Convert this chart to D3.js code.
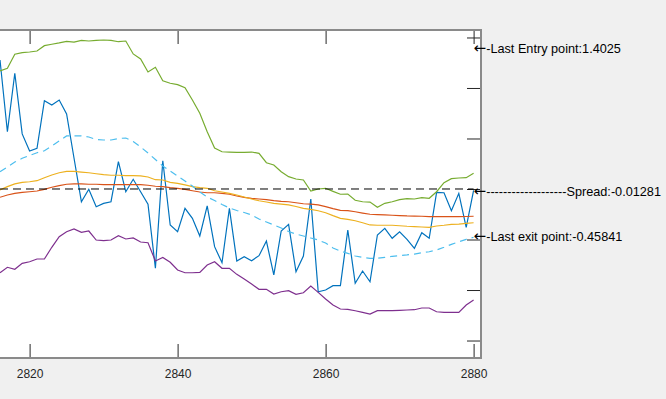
<!DOCTYPE html>
<html>
<head>
<meta charset="utf-8">
<script src="https://cdn.jsdelivr.net/npm/d3@7"></script>
<style>
  body { margin: 0; background: #f0f0f0; overflow: hidden; }
  svg { display: block; }
  .tick line { stroke: #262626; }
  .tick text { font-family: "Liberation Sans", Arial, sans-serif; font-size: 12px; fill: #262626; }
  .note { font-family: "Liberation Sans", Arial, sans-serif; font-size: 12.7px; fill: #000; }
  .arrow { font-family: "DejaVu Sans", sans-serif; font-size: 15px; }
</style>
</head>
<body>
<svg id="chart"></svg>
<script>
// sample index shown on the x axis
var xs = d3.range(2816, 2881);

// spread (solid blue)
var spread = [1.277, 0.567, 1.146, 0.545, 0.376, 0.403, 0.874, 0.832, 0.881, 0.743,
  0.307, -0.126, -0.003, -0.175, -0.142, -0.126, 0.270, -0.027, 0.096, -0.027,
  -0.151, -0.785, 0.280, -0.356, -0.423, -0.191, -0.290, -0.465, -0.168, -0.571,
  -0.730, -0.191, -0.713, -0.670, -0.710, -0.660, -0.515, -0.851, -0.416, -0.350,
  -0.819, -0.663, -0.099, -1.017, -1.000, -0.957, -0.957, -0.406, -0.934, -0.812,
  -0.918, -0.455, -0.389, -0.488, -0.423, -0.498, -0.587, -0.433, -0.488, -0.033,
  -0.037, -0.215, -0.043, -0.379, -0.0128];

var slowMean = [-0.082, -0.059, -0.043, -0.033, -0.027, -0.020, -0.003, 0.017, 0.033, 0.047,
  0.050, 0.050, 0.047, 0.047, 0.043, 0.043, 0.043, 0.043, 0.043, 0.043,
  0.037, 0.027, 0.023, 0.013, 0.007, -0.003, -0.017, -0.030, -0.037, -0.037,
  -0.043, -0.052, -0.069, -0.082, -0.092, -0.099, -0.106, -0.116, -0.122, -0.126,
  -0.136, -0.146, -0.149, -0.158, -0.175, -0.195, -0.211, -0.215, -0.225, -0.238,
  -0.250, -0.254, -0.257, -0.260, -0.263, -0.267, -0.269, -0.270, -0.274, -0.274,
  -0.274, -0.274, -0.274, -0.272, -0.270];

var fastMean = [-0.010, 0.023, 0.050, 0.066, 0.072, 0.082, 0.112, 0.139, 0.161, 0.175,
  0.175, 0.168, 0.161, 0.151, 0.142, 0.136, 0.136, 0.132, 0.132, 0.129,
  0.119, 0.092, 0.089, 0.066, 0.056, 0.040, 0.023, 0.013, 0.007, -0.017,
  -0.030, -0.043, -0.059, -0.079, -0.099, -0.116, -0.129, -0.142, -0.149, -0.158,
  -0.173, -0.191, -0.201, -0.215, -0.235, -0.264, -0.290, -0.300, -0.314, -0.334,
  -0.356, -0.359, -0.359, -0.359, -0.364, -0.369, -0.372, -0.376, -0.379, -0.366,
  -0.359, -0.350, -0.347, -0.340, -0.334];

var lowerBand = [-0.829, -0.775, -0.795, -0.736, -0.720, -0.693, -0.693, -0.577, -0.472, -0.423,
  -0.396, -0.429, -0.416, -0.505, -0.512, -0.505, -0.462, -0.495, -0.485, -0.525,
  -0.532, -0.713, -0.678, -0.726, -0.802, -0.829, -0.829, -0.825, -0.752, -0.720,
  -0.785, -0.785, -0.845, -0.891, -0.941, -0.993, -0.993, -1.040, -1.017, -1.007,
  -1.043, -1.027, -0.960, -1.023, -1.089, -1.149, -1.188, -1.191, -1.205, -1.221,
  -1.238, -1.205, -1.205, -1.205, -1.201, -1.198, -1.195, -1.178, -1.178, -1.215,
  -1.221, -1.221, -1.221, -1.149, -1.099];

var upperBand = [1.168, 1.195, 1.334, 1.350, 1.356, 1.366, 1.419, 1.433, 1.446, 1.462,
  1.455, 1.472, 1.465, 1.472, 1.475, 1.472, 1.458, 1.465, 1.337, 1.287,
  1.158, 1.205, 1.072, 1.047, 1.033, 1.003, 0.881, 0.750, 0.567, 0.406,
  0.369, 0.366, 0.363, 0.363, 0.366, 0.353, 0.260, 0.238, 0.171, 0.122,
  0.099, 0.089, -0.020, 0.000, 0.007, -0.023, -0.052, -0.050, -0.112, -0.126,
  -0.129, -0.181, -0.142, -0.126, -0.106, -0.096, -0.099, -0.086, -0.092, -0.027,
  0.062, 0.102, 0.109, 0.112, 0.155];

var exitLine = [0.171, 0.218, 0.267, 0.304, 0.332, 0.359, 0.379, 0.426, 0.475, 0.525,
  0.525, 0.525, 0.515, 0.490, 0.485, 0.485, 0.500, 0.505, 0.470, 0.416,
  0.356, 0.292, 0.228, 0.178, 0.129, 0.079, 0.030, -0.030, -0.079, -0.114,
  -0.153, -0.188, -0.213, -0.233, -0.257, -0.297, -0.327, -0.356, -0.386, -0.421,
  -0.446, -0.465, -0.485, -0.505, -0.535, -0.584, -0.614, -0.637, -0.663, -0.676,
  -0.686, -0.686, -0.676, -0.666, -0.660, -0.653, -0.644, -0.631, -0.621, -0.604,
  -0.577, -0.548, -0.522, -0.498, -0.478];

var xTicks = [2820, 2840, 2860, 2880];
var yTicks = [-1.5, -1, -0.5, 0, 0.5, 1, 1.5];

var noteValues = [1.4025, -0.01281, -0.45841];
var noteLabels = ["-Last Entry point:1.4025",
  "-------------------Spread:-0.01281",
  "-Last exit point:-0.45841"];

var width = 666, height = 399;
var plotTop = 30, plotRight = 481, plotBottom = 358;

var svg = d3.select("#chart")
  .attr("width", width)
  .attr("height", height);

var x = d3.scaleLinear().domain([2760, 2881]).range([plotRight - 121 * 7.4, plotRight]);
var y = d3.scaleLinear().domain([-1.673, 1.574]).range([plotBottom, plotTop]);
var plotLeft = x(2760);

// axes area
svg.append("rect")
  .attr("x", plotLeft).attr("y", plotTop)
  .attr("width", plotRight - plotLeft).attr("height", plotBottom - plotTop)
  .attr("fill", "#fff");

svg.append("clipPath").attr("id", "clip")
  .append("rect")
  .attr("x", plotLeft).attr("y", plotTop)
  .attr("width", plotRight - plotLeft).attr("height", plotBottom - plotTop);

// ticks (inward, box style)
var gx = svg.append("g")
  .attr("transform", "translate(0," + plotBottom + ")")
  .call(d3.axisBottom(x).tickValues(xTicks).tickSize(-14).tickPadding(11).tickFormat(d3.format("d")));
var gxTop = svg.append("g")
  .attr("transform", "translate(0," + plotTop + ")")
  .call(d3.axisTop(x).tickValues(xTicks).tickSize(-14).tickFormat(""));
var gy = svg.append("g")
  .attr("transform", "translate(" + plotRight + ",0)")
  .call(d3.axisRight(y).tickValues(yTicks).tickSize(-14).tickFormat(""));
[gx, gxTop, gy].forEach(function(g) { g.select(".domain").remove(); });

// data lines, plotted in the order of the default colour order
var series = [
  {values: spread, color: "#0072BD", dash: null},
  {values: slowMean, color: "#D95319", dash: null},
  {values: fastMean, color: "#EDB120", dash: null},
  {values: lowerBand, color: "#7E2F8E", dash: null},
  {values: upperBand, color: "#77AC30", dash: null},
  {values: exitLine, color: "#4DBEEE", dash: "7,5"}
];

var line = d3.line()
  .x(function(d, i) { return x(xs[i]); })
  .y(function(d) { return y(d); });

var plot = svg.append("g").attr("clip-path", "url(#clip)");

plot.selectAll(".series")
  .data(series)
  .enter()
  .append("path")
  .attr("class", "series")
  .attr("d", function(d) { return line(d.values); })
  .attr("fill", "none")
  .attr("stroke", function(d) { return d.color; })
  .attr("stroke-width", 1.2)
  .attr("stroke-dasharray", function(d) { return d.dash; });

// zero reference line
plot.append("line")
  .attr("x1", x(xs[0])).attr("x2", x(xs[xs.length - 1]))
  .attr("y1", y(0)).attr("y2", y(0))
  .attr("stroke", "#000")
  .attr("stroke-width", 1)
  .attr("stroke-dasharray", "8,5");

// box edges
svg.append("path")
  .attr("d", "M" + plotLeft + "," + plotTop + "H" + plotRight + "V" + plotBottom + "H" + plotLeft)
  .attr("fill", "none")
  .attr("stroke", "#8a8a8a")
  .attr("stroke-width", 2);

// annotations
var notes = svg.selectAll(".note")
  .data(noteValues)
  .enter()
  .append("text")
  .attr("class", "note")
  .attr("x", x(2880))
  .attr("y", function(d) { return y(d); })
  .attr("dy", "0.45em");
notes.append("tspan")
  .attr("class", "arrow")
  .text("\u2190");
notes.append("tspan")
  .text(function(d, i) { return noteLabels[i]; });
</script>
</body>
</html>
